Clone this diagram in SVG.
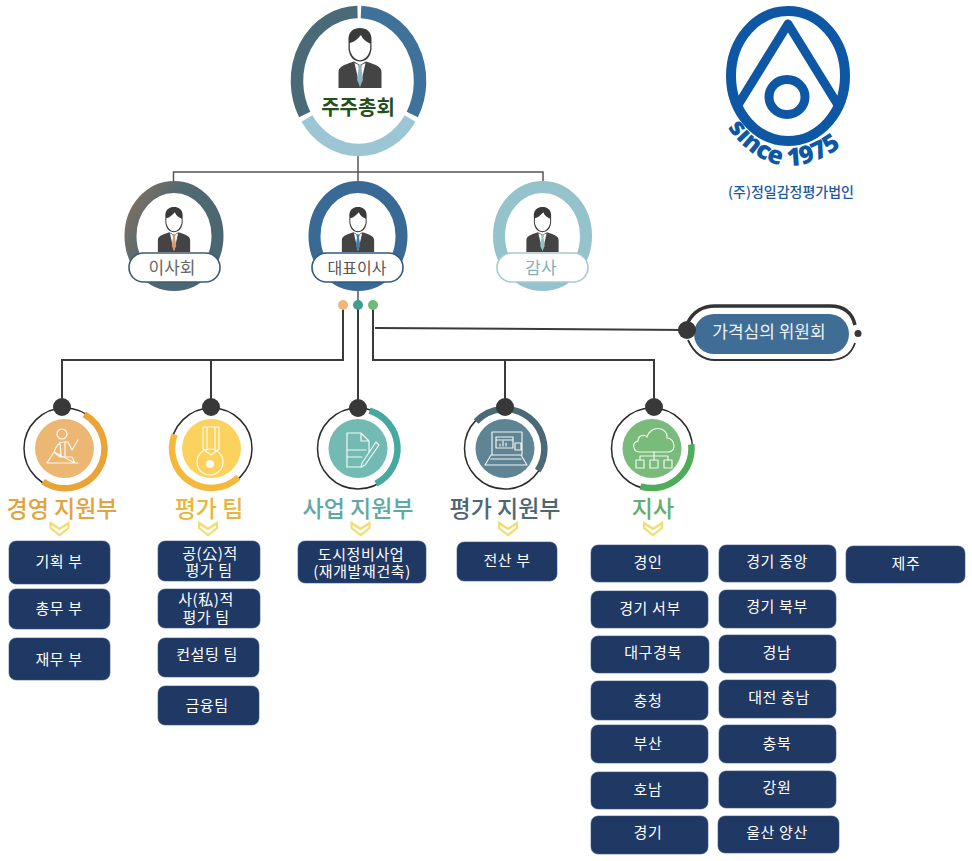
<svg xmlns="http://www.w3.org/2000/svg" width="972" height="861" viewBox="0 0 972 861">
<style>
text{font-family:"Noto Sans CJK KR","Noto Sans",sans-serif;text-anchor:middle}
.box{fill:#1f3864;stroke:#3a5488;stroke-width:.6}
.bt{fill:#fff;font-size:15px;letter-spacing:.6px}
.dept{font-size:23px;font-weight:500}
.pill{fill:#fff;stroke-width:1.6}
.pt{font-size:17px}
.ring{fill:none;stroke:#2b2b2b;stroke-width:1.5}
.arc{fill:none;stroke-width:6.5}
.dot{fill:#383838}
.ico{fill:none;stroke:#fff;stroke-width:1.2;stroke-linejoin:round;stroke-linecap:round;opacity:.9}
.l1{fill:none;stroke:#555;stroke-width:1.5}
.l2{fill:none;stroke:#3a3a3a;stroke-width:2}
.chev{fill:none;stroke:#f1dd72;stroke-width:2.2;stroke-linejoin:miter}
.logo{fill:none;stroke:#0d57a5}
</style>
<defs>
<linearGradient id="gBoard" x1="0" y1="0" x2="1" y2=".6"><stop offset="0" stop-color="#86705f"/><stop offset=".45" stop-color="#4f6a72"/><stop offset="1" stop-color="#4a6670"/></linearGradient>
<g id="person">
<path fill="#3a3a3a" d="M-11.5 14C-12.5 3-6 0 0 0C6 0 12.5 3 11.5 14L11.5 21C10.5 30 5 33.5 0 33.5C-5 33.5-10.5 30-11.5 21Z"/>
<path fill="#fff" d="M-10.2 15C-6 14-2 11 1 7C3 12 7 14 10.2 15.5L10.2 21C9 28 4 32.3 0 32.3C-4 32.3-9 28-10.2 21Z"/>
<path fill="#444" d="M-21.5 60L-21.5 44C-21.5 39-17 37-6 33.5L0 37L6 33.5C17 37 21.5 39 21.5 44L21.5 60Z"/>
<path fill="#fff" d="M-5.5 35L0 59L5.5 35L0 37.5Z"/>
<path d="M-2.2 37L2.2 37L1.4 40.5L3 52L0 58L-3 52L-1.4 40.5Z"/>
</g>
<g id="chevron">
<path class="chev" d="M-9 1L0 7L9 1L9 6L0 13L-9 6Z"/>
<path class="chev" d="M-9 1L0 7L9 1" opacity=".7"/>
</g>
</defs>

<g id="connectors">
<path class="l1" d="M358 156V181M173.500 181V172H543V181"/>
<path class="l1" d="M358 291V305"/>
<path class="l2" d="M343 305V360H62V407M211 360V407"/>
<path class="l2" d="M358 305V407"/>
<path class="l2" d="M373 305V360H654V407M505 360V407"/>
<path class="l2" d="M375 328L687 330"/>
</g>

<g id="node-shareholders">
<path fill="none" stroke="#4a6a78" stroke-width="12.500" d="M357.500 12A61.500 69 0 0 0 304.700 114.500"/>
<path fill="none" stroke="#3f729b" stroke-width="12.500" d="M361 12A61.500 69 0 0 1 412.300 114.500"/>
<path fill="none" stroke="#9cc6d3" stroke-width="12.500" d="M306.900 118.500A61.500 69 0 0 0 410.100 118.500"/>
<use href="#person" transform="translate(360 28)" fill="#8fb3c0"/>
<text x="358" y="115" font-size="20" font-weight="700" fill="#24501a">주주총회</text>
</g>

<g id="node-board">
<ellipse cx="174" cy="236" rx="43.500" ry="49" fill="none" stroke="url(#gBoard)" stroke-width="12"/>
<use href="#person" transform="translate(174 207) scale(.75)" fill="#d59a6c"/>
<rect class="pill" x="129" y="253" width="91" height="29" rx="14.500" stroke="#3f5c70"/>
<text class="pt" x="172" y="274" fill="#666">이사회</text>
</g>
<g id="node-ceo">
<ellipse cx="358" cy="236" rx="43.500" ry="49" fill="none" stroke="#386a95" stroke-width="12"/>
<use href="#person" transform="translate(358 207) scale(.75)" fill="#3f7ca6"/>
<rect class="pill" x="312" y="253" width="91" height="29" rx="14.500" stroke="#2f5b82"/>
<text x="357" y="273.500" font-size="16" fill="#555">대표이사</text>
</g>
<g id="node-auditor">
<ellipse cx="542.500" cy="236" rx="43.500" ry="49" fill="none" stroke="#94c3cc" stroke-width="12"/>
<use href="#person" transform="translate(542.500 207) scale(.75)" fill="#93c4c4"/>
<rect class="pill" x="497" y="253" width="91" height="29" rx="14.500" stroke="#a8c9ce"/>
<text class="pt" x="541" y="274" fill="#86aeb6">감사</text>
</g>

<g id="node-dots">
<circle cx="343" cy="305" r="5" fill="#f0b877"/>
<circle cx="358" cy="305" r="5" fill="#3f9c94"/>
<circle cx="373" cy="305" r="5" fill="#6fba78"/>
</g>

<g id="node-committee">
<path fill="none" stroke="#333" stroke-width="3.500" d="M688 322C694 311 703 306 715 306H830C843 306 852 312 855 325"/>
<path fill="none" stroke="#333" stroke-width="1.800" d="M688 340C694 353 703 360 715 360H830C845 360 852 352 855 343"/>
<rect x="694" y="314" width="155" height="40" rx="20" fill="#3f6d96"/>
<circle class="dot" cx="687" cy="330" r="9"/>
<circle class="dot" cx="858" cy="333.500" r="3.500"/>
<text x="769" y="338" font-size="17" fill="#eef3f7">가격심의 위원회</text>
</g>

<g id="node-mgmt">
<circle cx="64.500" cy="448.500" r="29.500" fill="#ebb772"/>
<circle class="ring" cx="64.500" cy="448.500" r="40.500"/>
<path class="arc" stroke="#eaa436" d="M84.250 414.300A39.500 39.500 0 1 1 43 481.600"/>
<circle class="dot" cx="62" cy="407" r="9"/>
<g class="ico"><circle cx="62" cy="434" r="5"/><path d="M47 463L54 452C56 446 60 442 64 442L68 442L72 450L78 440M54 452L60 457L72 457L75 463ZM60 442L61 456M65 442L65 456M47 463H78"/></g>
<text class="dept" x="62" y="517" fill="#e2a23c">경영 지원부</text>
<use href="#chevron" x="59.500" y="522"/>
</g>
<g id="node-eval">
<circle cx="211.500" cy="448.500" r="29.500" fill="#fbd25e"/>
<circle class="ring" cx="211.500" cy="448.500" r="40.500"/>
<path class="arc" stroke="#f4b93c" d="M238.400 477.400A39.500 39.500 0 0 1 174.600 434.400"/>
<circle class="dot" cx="211" cy="407" r="9"/>
<g class="ico"><path d="M203 427H219V449L211 455L203 449ZM207 427V450M215 427V450"/><ellipse cx="210" cy="462" rx="13" ry="13"/><circle cx="210" cy="464" r="3.500" fill="#fff"/></g>
<text class="dept" x="209" y="517" fill="#e9b53c">평가 팀</text>
<use href="#chevron" x="208" y="522"/>
</g>
<g id="node-business">
<circle cx="358" cy="448.500" r="29.500" fill="#73bab3"/>
<circle class="ring" cx="358" cy="448.500" r="40.500"/>
<path class="arc" stroke="#46a8a0" d="M369.500 410.700A39.500 39.500 0 0 1 375.900 483.700"/>
<circle class="dot" cx="358" cy="408" r="9"/>
<g class="ico"><path d="M347 433H361L369 441V452M361 433V441H369M347 433V467H362M347 450H366M347 457H362"/><path d="M362 463L376 442L379 445L365 465L361 467Z"/></g>
<text class="dept" x="358" y="517" fill="#5ea9a3" font-weight="400">사업 지원부</text>
<use href="#chevron" x="360.500" y="522"/>
</g>
<g id="node-evalsupport">
<circle cx="505" cy="448.500" r="29.500" fill="#5f8594"/>
<circle class="ring" cx="505" cy="448.500" r="40.500"/>
<path class="arc" stroke="#4b6a75" d="M476.100 421.600A39.500 39.500 0 0 1 537.700 470.600"/>
<circle class="dot" cx="505" cy="407" r="9"/>
<g class="ico"><path d="M492 455V432H522V455M496 437H513V448H496ZM496 440H513M515 443H521V450H515ZM485 465L491 455H521L527 465ZM491 459H521"/><path d="M500 446V444M503 446V441M506 446V443"/></g>
<text class="dept" x="505" y="517" fill="#4d6672">평가 지원부</text>
<use href="#chevron" x="508" y="522"/>
</g>
<g id="node-branch">
<circle cx="652" cy="448.500" r="29.500" fill="#78bb7b"/>
<circle class="ring" cx="652" cy="448.500" r="40.500"/>
<path class="arc" stroke="#4fac5a" d="M691.300 444.400A39.500 39.500 0 0 1 640.500 486.300"/>
<circle class="dot" cx="654" cy="407" r="9"/>
<g class="ico"><path d="M640 452C633 452 631 443 638 441C638 435 645 434 647 437C650 425 668 426 667 438C675 438 677 452 668 452Z"/><path d="M654 452V456M640 460V456H668V460M654 456V460"/><rect x="636" y="460" width="8" height="8"/><rect x="650" y="460" width="8" height="8"/><rect x="664" y="460" width="8" height="8"/></g>
<text class="dept" x="653" y="517" fill="#62ae6a" font-weight="400">지사</text>
<use href="#chevron" x="653" y="522"/>
</g>

<g id="node-logo">
<ellipse class="logo" cx="788" cy="76" rx="57" ry="65" stroke-width="10"/>
<path class="logo" stroke-width="9" stroke-linejoin="round" d="M738 105L788 24L838 105"/>
<ellipse class="logo" cx="787" cy="97" rx="18" ry="17.500" stroke-width="9"/>
<path id="sincePath" fill="none" d="M730 131Q776 190 838 149"/>
<text font-size="25" font-weight="800" fill="#0d57a5" style="font-family:'Open Sans','Noto Sans',sans-serif"><textPath href="#sincePath" startOffset="50%">since 1975</textPath></text>
<text x="791" y="197" font-size="14" font-weight="500" fill="#1d5a9f">(주)정일감정평가법인</text>
</g>

<g id="box-planning"><rect class="box" x="9" y="541" width="101" height="43" rx="7"/><text class="bt" x="59" y="567">기획 부</text></g>
<g id="box-general"><rect class="box" x="9" y="589" width="101" height="40" rx="7"/><text class="bt" x="59" y="614">총무 부</text></g>
<g id="box-finance"><rect class="box" x="9" y="638" width="101" height="42" rx="7"/><text class="bt" x="59" y="665">재무 부</text></g>
<g id="box-public"><rect class="box" x="158" y="541" width="102" height="40" rx="7"/><text class="bt"><tspan x="210" y="559">공(公)적</tspan><tspan x="209" y="576">평가 팀</tspan></text></g>
<g id="box-private"><rect class="box" x="158" y="589" width="102" height="39" rx="7"/><text class="bt"><tspan x="206" y="605">사(私)적</tspan><tspan x="206" y="623">평가 팀</tspan></text></g>
<g id="box-consulting"><rect class="box" x="158" y="638" width="101" height="39" rx="7"/><text class="bt" x="207" y="660">컨설팅 팀</text></g>
<g id="box-banking"><rect class="box" x="158" y="686" width="101" height="39" rx="7"/><text class="bt" x="207" y="711">금융팀</text></g>
<g id="box-urban"><rect class="box" x="298" y="541" width="128" height="42" rx="7"/><text class="bt"><tspan x="361" y="560">도시정비사업</tspan><tspan x="362" y="577">(재개발재건축)</tspan></text></g>
<g id="box-it"><rect class="box" x="457" y="542" width="100" height="39" rx="7"/><text class="bt" x="507" y="566">전산 부</text></g>

<g id="box-gyeongin"><rect class="box" x="591" y="545" width="117" height="37" rx="7"/><text class="bt" x="648" y="568">경인</text></g>
<g id="box-gyeonggi-west"><rect class="box" x="591" y="591" width="117" height="37" rx="7"/><text class="bt" x="650" y="614">경기 서부</text></g>
<g id="box-daegu"><rect class="box" x="591" y="636" width="118" height="37" rx="7"/><text class="bt" x="653" y="658">대구경북</text></g>
<g id="box-chungcheong"><rect class="box" x="591" y="681" width="117" height="39" rx="7"/><text class="bt" x="648" y="706">충청</text></g>
<g id="box-busan"><rect class="box" x="591" y="725" width="117" height="38" rx="7"/><text class="bt" x="648" y="749">부산</text></g>
<g id="box-honam"><rect class="box" x="591" y="772" width="117" height="37" rx="7"/><text class="bt" x="648" y="795">호남</text></g>
<g id="box-gyeonggi"><rect class="box" x="591" y="816" width="117" height="38" rx="7"/><text class="bt" x="648" y="838">경기</text></g>

<g id="box-gyeonggi-central"><rect class="box" x="719" y="545" width="117" height="37" rx="7"/><text class="bt" x="777" y="567">경기 중앙</text></g>
<g id="box-gyeonggi-north"><rect class="box" x="719" y="590" width="117" height="38" rx="7"/><text class="bt" x="777" y="612">경기 북부</text></g>
<g id="box-gyeongnam"><rect class="box" x="719" y="635" width="117" height="38" rx="7"/><text class="bt" x="777" y="658">경남</text></g>
<g id="box-daejeon"><rect class="box" x="719" y="680" width="117" height="38" rx="7"/><text class="bt" x="779" y="703">대전 충남</text></g>
<g id="box-chungbuk"><rect class="box" x="719" y="725" width="117" height="38" rx="7"/><text class="bt" x="777" y="749">충북</text></g>
<g id="box-gangwon"><rect class="box" x="719" y="771" width="117" height="37" rx="7"/><text class="bt" x="777" y="793">강원</text></g>
<g id="box-ulsan"><rect class="box" x="718" y="816" width="121" height="37" rx="7"/><text class="bt" x="777" y="838">울산 양산</text></g>
<g id="box-jeju"><rect class="box" x="846" y="546" width="119" height="37" rx="7"/><text class="bt" x="906" y="569">제주</text></g>
</svg>
